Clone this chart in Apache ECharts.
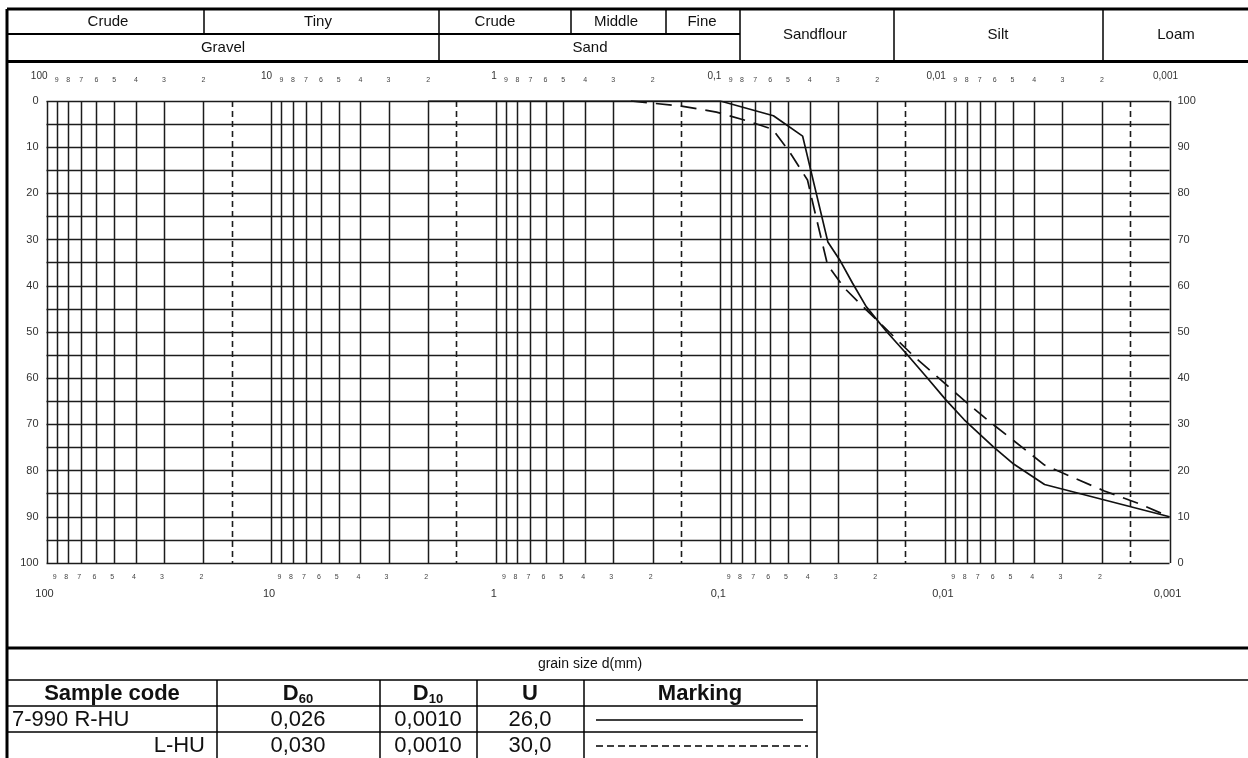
<!DOCTYPE html>
<html><head><meta charset="utf-8">
<script src="https://cdn.jsdelivr.net/npm/echarts@6/dist/echarts.min.js"></script>
<style>html,body{margin:0;padding:0;background:#fff;overflow:hidden}#c{width:1248px;height:758px}</style>
</head><body><div id="c"></div>
<script>
// ---- data ----
const solidD = [2, 0.1, 0.058, 0.043, 0.0332, 0.0294, 0.0258, 0.0224, 0.0182, 0.0149, 0.0121, 0.0099, 0.0082, 0.0061, 0.005, 0.0036, 0.001];
const solidP = [100, 100, 96.8, 92.4, 69.5, 65.6, 60.6, 55.5, 50.1, 45.4, 40.3, 35.3, 31.0, 25.2, 21.6, 17.0, 10];
const dashD = [0.25, 0.149, 0.104, 0.076, 0.0585, 0.0492, 0.0409, 0.0381, 0.0333, 0.028, 0.0224, 0.0195, 0.01365, 0.0104, 0.00778, 0.006, 0.00457, 0.0036, 0.00269, 0.00195, 0.00136, 0.001];
const dashP = [100, 98.9, 97.6, 95.7, 93.9, 89.0, 82.9, 76.4, 64.5, 59.5, 54.8, 52.0, 44.6, 39.6, 34.2, 29.7, 25.2, 21.2, 18.5, 15.6, 12.8, 10];
const decades = [100, 10, 1, 0.1, 0.01, 0.001];
const decadeLabels = ['100', '10', '1', '0,1', '0,01', '0,001'];
const minorMult = [9, 8, 7, 6, 5, 4, 3, 2];
const boundaryMult = 1.5;
const headerRow1 = ['Crude', 'Tiny', 'Crude', 'Middle', 'Fine'];
const headerRow2 = ['Gravel', 'Sand'];
const headerSpan = ['Sandflour', 'Silt', 'Loam'];
const xTitle = 'grain size d(mm)';
const sampleCodes = ['7-990 R-HU', 'L-HU'];
const d60 = ['0,026', '0,030'];
const d10 = ['0,0010', '0,0010'];
const uVals = ['26,0', '30,0'];

// ---- layout ----
const G = {left: 46.5, right: 1248 - 1169.5, top: 101, bottom: 758 - 563};
const chart = echarts.init(document.getElementById('c'), null, {renderer: 'canvas'});
const FONT = 'Liberation Sans, Arial, sans-serif';
const NARROW = 'Liberation Sans Narrow, Arial Narrow, Liberation Sans, sans-serif';
const GRID = '#1c1c1c';

const gridVals = [];
for (let k = 1; k >= -3; k--) {
  const base = Math.pow(10, k);
  for (let m = 1; m <= 9; m++) gridVals.push([+(m * base).toPrecision(3), 0]);
  gridVals.push([+(boundaryMult * base).toPrecision(3), 1]);
}
gridVals.push([100, 0]);

const toPairs = (xs, ys) => xs.map((x, i) => [x, ys[i]]);

chart.setOption({
  animation: false,
  grid: G,
  xAxis: {type: 'log', logBase: 10, min: 0.001, max: 100, inverse: true,
    axisLine: {show: false}, axisTick: {show: false}, axisLabel: {show: false}, splitLine: {show: false}},
  yAxis: [
    {type: 'value', min: 0, max: 100, interval: 10, inverse: true, position: 'left',
      axisLine: {show: false}, axisTick: {show: false},
      axisLabel: {color: '#333', fontSize: 11, fontFamily: FONT, margin: 8},
      splitLine: {show: true, lineStyle: {color: GRID, width: 1.4}},
      minorTick: {show: false, splitNumber: 2},
      minorSplitLine: {show: true, lineStyle: {color: GRID, width: 1.3}}},
    {type: 'value', min: 0, max: 100, interval: 10, position: 'right',
      axisLine: {show: false}, axisTick: {show: false},
      axisLabel: {color: '#333', fontSize: 11, fontFamily: FONT, margin: 8},
      splitLine: {show: false}}
  ],
  series: [
    {type: 'custom', name: 'grid', yAxisIndex: 1, data: gridVals, z: 1, silent: true, clip: false,
      encode: {x: 0},
      renderItem: (params, api) => {
        const cs = params.coordSys;
        const x = Math.round(api.coord([api.value(0), 50])[0]) + 0.5;
        const dashed = api.value(1) === 1;
        return {type: 'line', shape: {x1: x, y1: cs.y, x2: x, y2: cs.y + cs.height},
          style: {stroke: GRID, lineWidth: dashed ? 1.6 : 1.5, lineDash: dashed ? [6, 4] : null}};
      }},
    {type: 'line', name: 'R-HU', yAxisIndex: 1, data: toPairs(solidD, solidP), showSymbol: false, z: 5,
      lineStyle: {color: '#111', width: 1.7}},
    {type: 'line', name: 'L-HU', yAxisIndex: 1, data: toPairs(dashD, dashP), showSymbol: false, z: 5,
      lineStyle: {color: '#111', width: 1.7, type: [16, 9]}}
  ]
});

// ---- text and frame graphics ----
const g = [];
const px = v => chart.convertToPixel({xAxisIndex: 0}, v);
const txt = (x, y, s, o) => g.push(Object.assign({type: 'text', x, y, silent: true,
  style: Object.assign({text: s, fill: '#111', font: '11px ' + FONT, align: 'center', verticalAlign: 'middle'}, o || {})}));
const line = (x1, y1, x2, y2, w, dash) => g.push({type: 'line', silent: true,
  shape: {x1, y1, x2, y2}, style: {stroke: '#000', lineWidth: w || 1.5, lineDash: dash || null}});

// axis tick labels (top and bottom)
decades.forEach((d, i) => {
  const x = px(d);
  const last = i === decades.length - 1;
  txt(last ? x - 4 : x + 1, 76, decadeLabels[i], {font: '10px ' + FONT, align: last ? 'center' : 'right', fill: '#333'});
  txt(x - 2, 594, decadeLabels[i], {font: '11px ' + FONT, fill: '#333'});
  if (!last) minorMult.forEach(m => {
    const xm = px(d * m / 10);
    txt(xm, 80, String(m), {font: '7px ' + FONT, fill: '#444'});
    txt(xm - 2, 577, String(m), {font: '7px ' + FONT, fill: '#444'});
  });
});

// outer frame
line(7, 9, 1248, 9, 3);
line(7, 9, 7, 758, 3);
line(7, 61.5, 1248, 61.5, 3);
line(7, 648, 1248, 648, 3);
// header
line(7, 34, 740, 34, 2);
[204, 571, 666].forEach(x => line(x, 9, x, 34, 1.5));
[439, 740, 894, 1103].forEach(x => line(x, 9, x, 61.5, 1.5));
const hf = '15px ' + FONT;
[[108, 'Crude'], [318, 'Tiny'], [495, 'Crude'], [616, 'Middle'], [702, 'Fine']].forEach((p, i) => txt(p[0], 22, headerRow1[i], {font: hf}));
[[223, 'Gravel'], [590, 'Sand']].forEach((p, i) => txt(p[0], 48, headerRow2[i], {font: hf}));
[[815, 'Sandflour'], [998, 'Silt'], [1176, 'Loam']].forEach((p, i) => txt(p[0], 35, headerSpan[i], {font: hf}));

// bottom table
txt(590, 664, xTitle, {font: '14px ' + NARROW});
line(7, 680, 1248, 680, 1.5);
line(7, 706, 817, 706, 1.5);
line(7, 732, 817, 732, 1.5);
[217, 380, 477, 584, 817].forEach(x => line(x, 680, x, 758, 1.5));
const bf = 'bold 22px ' + NARROW;
txt(112, 694, 'Sample code', {font: bf});
g.push({type: 'text', x: 298, y: 694, silent: true, style: {text: '{b|D}{s|60}', align: 'center', verticalAlign: 'middle',
  rich: {b: {font: bf, fill: '#111'}, s: {font: 'bold 13px ' + NARROW, fill: '#111', padding: [10, 0, 0, 0]}}}});
g.push({type: 'text', x: 428, y: 694, silent: true, style: {text: '{b|D}{s|10}', align: 'center', verticalAlign: 'middle',
  rich: {b: {font: bf, fill: '#111'}, s: {font: 'bold 13px ' + NARROW, fill: '#111', padding: [10, 0, 0, 0]}}}});
txt(530, 694, 'U', {font: bf});
txt(700, 694, 'Marking', {font: bf});
const vf = '22px ' + NARROW;
sampleCodes.forEach((s, i) => {
  const y = 720 + i * 26;
  txt(i === 0 ? 12 : 205, y, s, {font: vf, align: i === 0 ? 'left' : 'right'});
  txt(298, y, d60[i], {font: vf});
  txt(428, y, d10[i], {font: vf});
  txt(530, y, uVals[i], {font: vf});
});
line(596, 720, 803, 720, 1.3);
line(596, 746, 808, 746, 1.3, [7, 4]);

chart.setOption({graphic: g});
</script>
</body></html>
